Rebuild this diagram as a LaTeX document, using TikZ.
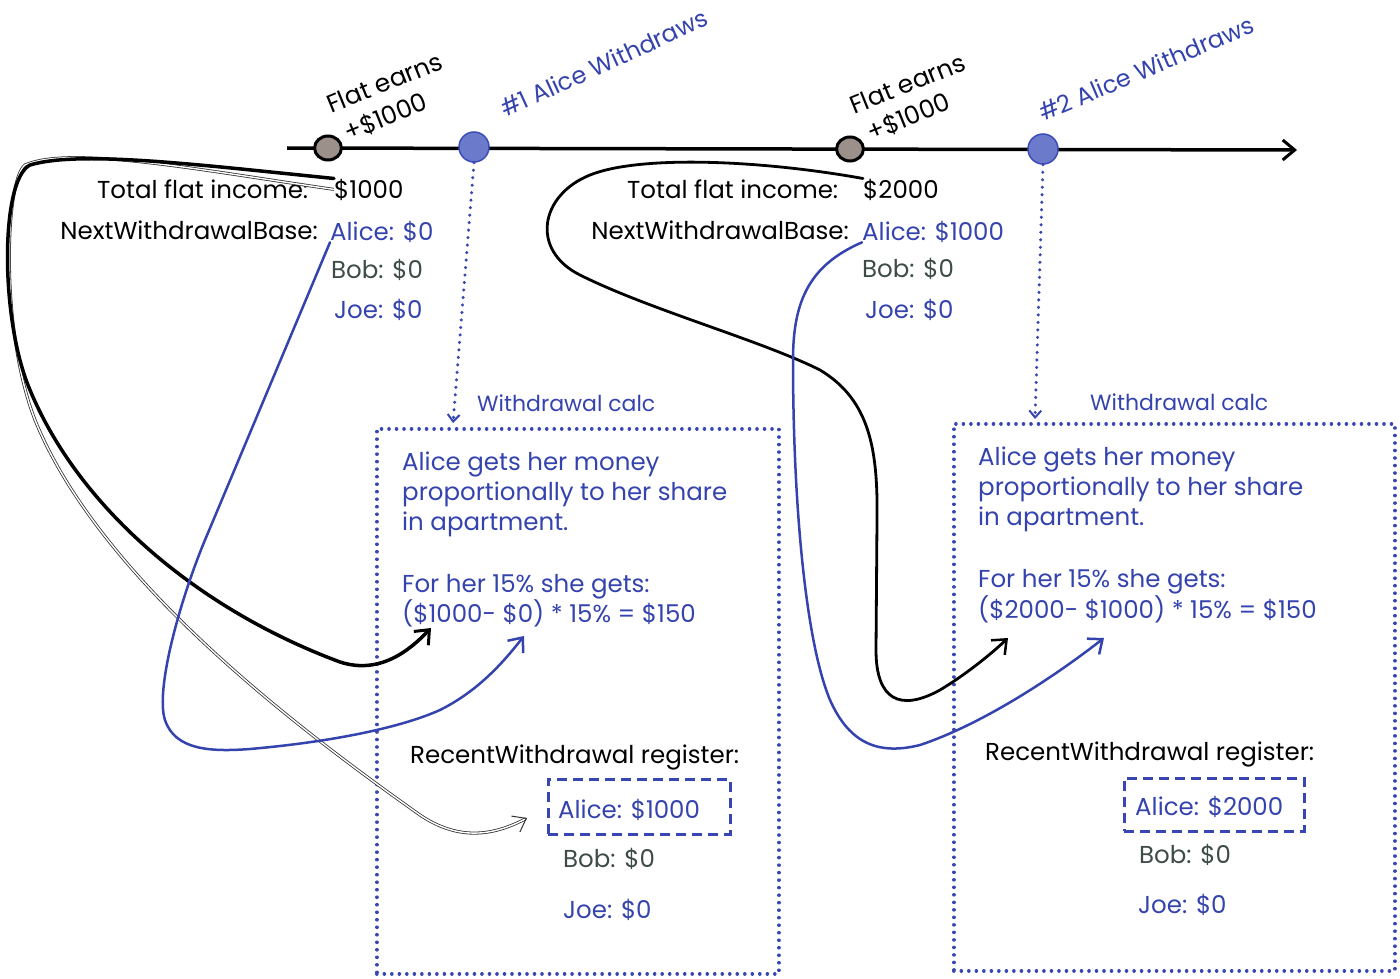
\documentclass[tikz,border=0pt]{standalone}
\usepackage{fontspec}
\setmainfont{Poppins}
\usetikzlibrary{arrows.meta}
\definecolor{txtblue}{RGB}{52,67,173}
\definecolor{bobgray}{RGB}{62,76,71}
\definecolor{dotblue}{RGB}{108,122,204}
\definecolor{dotblueline}{RGB}{60,76,182}
\definecolor{dotgray}{RGB}{155,145,138}
\definecolor{boxblue}{RGB}{55,70,178}
\begin{document}
\begin{tikzpicture}[x=1pt,y=-1pt,
  txt/.style={inner sep=0pt, anchor=base west, font=\fontsize{24.5}{30}\selectfont},
  txtr/.style={txt, anchor=base east},
  bl/.style={text=txtblue},
  gr/.style={text=bobgray},
  toplbl/.style={inner sep=0pt, anchor=base west, font=\fontsize{24}{30}\selectfont},
  flatlbl/.style={toplbl, font=\fontsize{25}{30}\selectfont},
  small/.style={txt, font=\fontsize{22}{26}\selectfont, text=txtblue},
  graydot/.style={circle, draw=black, line width=3pt, fill=dotgray, minimum size=24pt, inner sep=0pt, xscale=1.12},
  bluedot/.style={circle, draw=dotblueline, line width=1.5pt, fill=dotblue, minimum size=30pt, inner sep=0pt},
  calcbox/.style={draw=boxblue, line width=3.6pt, dash pattern=on 0.01pt off 7.5pt, line cap=round, anchor=north west, inner sep=0pt},
  regbox/.style={draw=boxblue, line width=2.8pt, dash pattern=on 10pt off 6pt, anchor=north west, inner sep=0pt},
  tline/.style={line width=3.5pt, black, -{Straight Barb[length=12pt,width=20pt,line width=3pt]}},
  vdot/.style={boxblue, line width=3.4pt, dash pattern=on 0.01pt off 7.5pt, line cap=round, -{Straight Barb[length=7pt,width=12pt,line width=2pt]}},
  blkconn/.style={black, line width=3.5pt, line cap=round, -{Straight Barb[length=12pt,width=20pt,line width=3pt]}},
  blkconn2/.style={black, line width=2.8pt, line cap=round, -{Straight Barb[length=12pt,width=20pt,line width=2.5pt]}},
  bluconn/.style={txtblue, line width=2.5pt, line cap=round, -{Straight Barb[length=12pt,width=20pt,line width=2.5pt]}},
  dblconn/.style={black!80, double=white, double distance=1.4pt, line width=0.8pt, -{Straight Barb[length=12pt,width=18pt,line width=1pt]}}
]
\useasboundingbox (0,0) rectangle (1400,979);

% timeline
\coordinate (tls) at (287,148);
\coordinate (tle) at (1297,150);
\draw[tline] (tls) -- (tle);
\node[graydot] (g1) at (328,148) {};
\node[bluedot] (w1) at (474,147) {};
\node[graydot] (g2) at (850,149) {};
\node[bluedot] (w2) at (1043,149) {};

% rotated labels
\node[flatlbl, rotate=22] (fe1) at (331,114) {Flat earns};
\node[flatlbl, rotate=22] (fa1) at (348,142) {+\$1000};
\node[toplbl, rotate=24.5, text=txtblue] (aw1) at (505,118) {\#1 Alice Withdraws};
\node[flatlbl, rotate=22] (fe2) at (854,115) {Flat earns};
\node[flatlbl, rotate=22] (fa2) at (871,142) {+\$1000};
\node[toplbl, rotate=23, text=txtblue] (aw2) at (1043,122) {\#2 Alice Withdraws};

% group 1 texts
\node[txt] (tot1) at (97,198) {Total flat income:};
\node[txt] (tv1) at (334,198) {\$1000};
\node[txtr] (nwb1) at (318,239) {NextWithdrawalBase:};
\node[txt, bl] (a1) at (330,240) {Alice: \$0};
\node[txt, gr] (b1) at (331,278) {Bob: \$0};
\node[txt, bl] (j1) at (334,318) {Joe: \$0};

% group 2 texts
\node[txt] (tot2) at (627,198) {Total flat income:};
\node[txt] (tv2) at (863,198) {\$2000};
\node[txtr] (nwb2) at (849,239) {NextWithdrawalBase:};
\node[txt, bl] (a2) at (862,240) {Alice: \$1000};
\node[txt, gr] (b2) at (862,277) {Bob: \$0};
\node[txt, bl] (j2) at (865,318) {Joe: \$0};

% calc box 1
\node[small] (wc1) at (477,411) {Withdrawal calc};
\node[calcbox, minimum width=402pt, minimum height=545pt] (box1) at (375,427) {};
\node[txt, bl] (c1l1) at (402,470) {Alice gets her money};
\node[txt, bl] (c1l2) at (402,500) {proportionally to her share};
\node[txt, bl] (c1l3) at (402,530) {in apartment.};
\node[txt, bl] (c1l4) at (402,592) {For her 15\% she gets:};
\node[txt, bl] (c1l5) at (402,622) {(\$1000- \$0) * 15\% = \$150};
\node[txt] (rw1) at (410,763) {RecentWithdrawal register:};
\node[regbox, minimum width=182pt, minimum height=55pt] (rb1) at (547,778) {};
\node[txt, bl] (ra1) at (558,818) {Alice: \$1000};
\node[txt, gr] (rbb1) at (563,867) {Bob: \$0};
\node[txt, bl] (rj1) at (563,918) {Joe: \$0};

% calc box 2
\node[small] (wc2) at (1090,410) {Withdrawal calc};
\node[calcbox, minimum width=441pt, minimum height=547pt] (box2) at (952,422) {};
\node[txt, bl] (c2l1) at (978,465) {Alice gets her money};
\node[txt, bl] (c2l2) at (978,495) {proportionally to her share};
\node[txt, bl] (c2l3) at (978,525) {in apartment.};
\node[txt, bl] (c2l4) at (978,587) {For her 15\% she gets:};
\node[txt, bl] (c2l5) at (978,618) {(\$2000- \$1000) * 15\% = \$150};
\node[txt] (rw2) at (985,760) {RecentWithdrawal register:};
\node[regbox, minimum width=180pt, minimum height=53pt] (rb2) at (1123,777) {};
\node[txt, bl] (ra2) at (1135,815) {Alice: \$2000};
\node[txt, gr] (rbb2) at (1139,863) {Bob: \$0};
\node[txt, bl] (rj2) at (1138,913) {Joe: \$0};

% vertical dotted arrows
\coordinate (v1e) at (453,423);
\coordinate (v2e) at (1035,419);
\draw[vdot] (w1.south) -- (v1e);
\draw[vdot] (w2.south) -- (v2e);

% connector end points
\coordinate (e1) at (431,628);
\coordinate (e2) at (524,636);
\coordinate (e3) at (527,818);
\coordinate (e4) at (1008,638);
\coordinate (e5) at (1104,638);

% thin double connector
\draw[dblconn] (tv1.west) .. controls (200,170) and (70,145) .. (25,165)
  .. controls (5,180) and (0,330) .. (35,420)
  .. controls (100,580) and (300,730) .. (420,815)
  .. controls (460,842) and (495,835) .. (e3);
% black thick connector 1
\draw[blkconn] (tv1.north west) .. controls (200,165) and (80,150) .. (30,165)
  .. controls (0,180) and (0,320) .. (30,390)
  .. controls (80,510) and (200,610) .. (340,662)
  .. controls (380,675) and (410,650) .. (e1);
% blue connector 1
\draw[bluconn] (a1.south west) -- (205,540)
  .. controls (180,600) and (155,690) .. (165,720)
  .. controls (175,750) and (210,752) .. (250,749)
  .. controls (330,742) and (400,728) .. (440,710)
  .. controls (480,690) and (505,660) .. (e2);
% black connector 2
\draw[blkconn2] (tv2.north west) .. controls (760,160) and (640,155) .. (590,175)
  .. controls (540,195) and (530,250) .. (580,275)
  .. controls (650,310) and (760,340) .. (820,370)
  .. controls (870,400) and (878,450) .. (877,520)
  -- (876,650)
  .. controls (876,700) and (900,712) .. (940,690)
  .. controls (965,675) and (990,655) .. (e4);
% blue connector 2
\draw[bluconn] (a2.south west) .. controls (810,265) and (793,300) .. (793,360)
  .. controls (793,500) and (805,640) .. (830,700)
  .. controls (850,745) and (880,755) .. (920,745)
  .. controls (980,725) and (1050,680) .. (e5);
\end{tikzpicture}
\end{document}
